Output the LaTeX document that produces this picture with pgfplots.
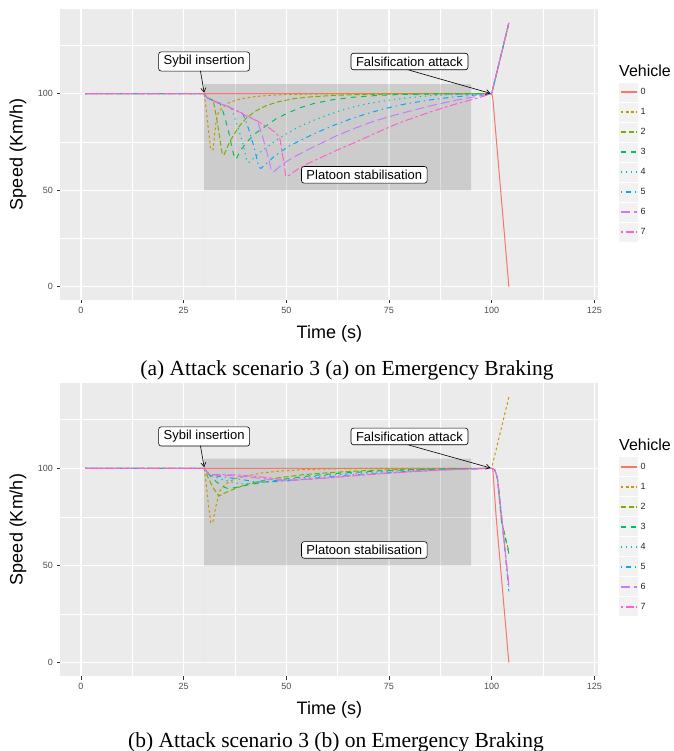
\documentclass[border=0pt]{standalone}
\usepackage{fontspec}
\setmainfont{Liberation Sans}
\newfontfamily\capfont{Liberation Serif}
\usepackage{pgfplots}
\pgfplotsset{compat=1.18}
\usetikzlibrary{arrows.meta}

\definecolor{ggbg}{HTML}{EBEBEB}
\definecolor{keybg}{HTML}{F2F2F2}
\definecolor{ticklab}{HTML}{4D4D4D}
\definecolor{tickcol}{HTML}{333333}
\definecolor{c0}{HTML}{F8766D}
\definecolor{c1}{HTML}{CD9600}
\definecolor{c2}{HTML}{7CAE00}
\definecolor{c3}{HTML}{00BE67}
\definecolor{c4}{HTML}{00BFC4}
\definecolor{c5}{HTML}{00A9FF}
\definecolor{c6}{HTML}{C77CFF}
\definecolor{c7}{HTML}{FF61CC}

\pgfplotsset{
  ggpanel/.style={
    scale only axis, width=538pt, clip=false,
    xmin=-5, xmax=126, ymin=-6.85, ymax=143.9,
    axis background/.style={fill=ggbg},
    axis line style={draw=none},
    xtick={0,25,...,125}, ytick={0,50,100},
    minor xtick={12.5,37.5,...,112.5}, minor ytick={25,75,125},
    xtick pos=bottom, ytick pos=left,
    grid=both,
    major grid style={white, line width=1.4pt},
    minor grid style={white, line width=0.7pt},
    tick align=outside, major tick length=3.5pt, minor tick length=0pt,
    tick style={tickcol, line width=0.8pt},
    /pgf/number format/assume math mode=true,
    ticklabel style={font=\fontsize{9}{10}\selectfont, text=ticklab},
    yticklabel style={xshift=-0.5pt},
    xlabel={Time (s)}, ylabel={Speed (Km/h)},
    every axis x label/.style={at={(axis description cs:0.5,-0.115)}, anchor=center,
      font=\fontsize{18}{20}\selectfont},
    every axis y label/.style={at={(axis description cs:-0.0788,0.5)}, rotate=90,
      anchor=center, font=\fontsize{18}{20}\selectfont},
    legend image code/.code={
      \path[fill=keybg, draw=none] (0pt,-9.5pt) rectangle (19pt,9.5pt);
      \draw[##1, line width=1.6pt] (1.5pt,0pt) -- (17.5pt,0pt);
    },
    legend cell align=left,
    legend style={anchor=north west, draw=none, fill=none, row sep=1pt,
      inner sep=0pt, font=\fontsize{9}{10}\selectfont,
      nodes={inner sep=2.5pt, text=black!85}},
    every axis plot/.append style={line width=1pt, line join=round},
  },
  v0/.style={c0, solid},
  v1/.style={c1, dash pattern=on 2.6pt off 2.6pt},
  v2/.style={c2, dash pattern=on 5.2pt off 2.6pt},
  v3/.style={c3, dash pattern=on 5.2pt off 5.2pt},
  v4/.style={c4, dash pattern=on 1.3pt off 3.9pt},
  v5/.style={c5, dash pattern=on 1.3pt off 3.9pt on 5.2pt off 3.9pt},
  v6/.style={c6, dash pattern=on 9.1pt off 3.9pt},
  v7/.style={c7, dash pattern=on 2.6pt off 2.6pt on 7.8pt off 2.6pt},
}
\tikzset{
  ann/.style={draw=black, rounded corners=2.5pt, fill=white, line width=0.6pt,
    font=\fontsize{13}{14}\selectfont, inner xsep=5pt, inner ysep=3.5pt},
  arr/.style={-{Straight Barb[length=4pt,width=5pt]}, line width=0.6pt, black},
}

\begin{document}
\begin{tikzpicture}
\path[use as bounding box] (0pt,0pt) rectangle (673pt,751pt);

% ---------------- (a) ----------------
\begin{axis}[ggpanel, height=291pt, at={(60.4pt,451pt)}, anchor=south west,
  legend style={at={(axis description cs:1.0383,0.7473)}}]
\addplot[forget plot, draw=none, fill=black, fill opacity=0.13]
  coordinates {(30,50) (95,50) (95,105) (30,105)} \closedcycle;
% vehicle 0
\addplot[v0] coordinates {(1,100) (100,100) (100.3,97.5) (104.2,0)};
% vehicle 1
\addplot[v1] coordinates {(1,100) (30,100) (30.5,92) (31,82) (31.6,71) (32.2,71)
  (32.6,80) (33,87) (33.6,91) (34.6,93) (36,95.3) (37.9,96.8) (40,97.8) (42,98.4)
  (45,99) (49,99.5) (55,99.8) (65,100) (100,100) (104.2,136.7)};
% vehicle 2
\addplot[v2] coordinates {(1,100) (30,100) (30.8,97.8) (31.5,97.2) (32.2,96.5)
  (33,88) (33.8,77) (34.4,69) (34.8,68.2) (35.4,71) (36.2,75) (37.1,78.3) (38.5,83)
  (40.3,87.5) (42.5,91) (45.2,93.9) (48,95.8) (51.7,97.4) (56,98.4) (61.4,99.1)
  (68,99.6) (80,99.9) (100,100) (104.2,136.7)};
% vehicle 3
\addplot[v3] coordinates {(1,100) (30,100) (30.8,97.8) (31.5,97.2) (32.3,96.4)
  (33,95.6) (34,94.6) (35,88) (36,80) (37,70) (37.5,66.1) (38,67) (39,71)
  (40.3,74.8) (42.5,79.5) (45.2,83.5) (47.5,87) (50,89.6) (53,92.5) (56.5,94.8)
  (61,96.8) (66.3,98.2) (72,99.1) (77.6,99.6) (88,99.9) (100,100) (104.2,136.7)};
% vehicle 4
\addplot[v4] coordinates {(1,100) (30,100) (30.8,97.8) (31.5,97.2) (32.3,96.4)
  (33,95.6) (33.8,95.2) (34.5,94.4) (35.3,93.8) (36,93.2) (36.7,92.3) (38,84)
  (39.5,74) (40.4,65) (40.9,64.4) (42,66.5) (43.5,69.5) (45.2,72.2) (47.5,75.8)
  (50,79.2) (53,82.8) (56.5,86.1) (60.5,89.3) (64.6,92.2) (69,94.5) (74.4,96.5)
  (80,98) (85.7,99.1) (92,99.7) (100,100) (104.2,136.7)};
% vehicle 5
\addplot[v5] coordinates {(1,100) (30,100) (30.8,97.8) (31.5,97.2) (32.3,96.4)
  (33,95.6) (33.8,95.2) (34.5,94.4) (35.3,93.8) (36,93.2) (36.8,92.2) (37.5,91.6)
  (38.3,90.8) (39,90.2) (39.5,89.3) (40.8,82) (42.2,72) (43.3,62) (43.8,61.3)
  (45,63.5) (46.5,66.5) (48.4,69.6) (50.8,73) (53.3,75.7) (57,79.5) (61.4,83.5)
  (65.5,86.8) (69.5,89.6) (74,92.3) (79.2,94.8) (85,96.8) (90.6,98.3) (95.5,99.2)
  (100,100) (104.2,136.7)};
% vehicle 6
\addplot[v6] coordinates {(1,100) (30,100) (30.8,97.8) (31.5,97.2) (32.3,96.4)
  (33,95.6) (33.8,95.2) (34.5,94.4) (35.3,93.8) (36,93.2) (36.8,92.2) (37.5,91.6)
  (38.3,90.8) (39,90.2) (39.8,89) (40.5,88.4) (41.3,87.6) (42,86.8) (43,85.8)
  (44.2,78) (45.5,68) (46.4,60) (46.9,59.5) (48.5,62.5) (50,64.8) (51.7,67)
  (55,70.8) (58.2,74) (62,78) (66.3,81.8) (71,85.5) (76,88.7) (81,91.5) (85.7,94)
  (91,96.5) (96.3,98.6) (100,100) (104.2,136.7)};
% vehicle 7
\addplot[v7] coordinates {(1,100) (30,100) (30.8,97.8) (31.5,97.2) (32.3,96.4)
  (33,95.6) (33.8,95.2) (34.5,94.4) (35.3,93.8) (36,93.2) (36.8,92.2) (37.5,91.6)
  (38.3,90.8) (39,90.2) (39.8,89) (40.5,88.4) (41.3,87.6) (42,86.8) (42.8,86)
  (43.5,85.2) (44.3,84) (45,83.2) (45.8,82.4) (46.5,81.2) (47.3,80) (48.4,77.4)
  (49.2,67) (49.9,57.1) (50.5,57.5) (52.5,60.5) (54.9,63.5) (59,67.5) (63,71.4)
  (67,75) (71.1,79) (77.6,85) (85.7,91) (91,94.5) (96.3,97.6) (100,100) (104.2,136.7)};
\legend{0,1,2,3,4,5,6,7}
\node[ann] at (axis cs:30,116.7) {Sybil insertion};
\draw[arr] (axis cs:29.1,111.8) -- (axis cs:30,100.6);
\node[ann] at (axis cs:80,116.7) {Falsification attack};
\draw[arr] (axis cs:79.8,112.3) -- (axis cs:99.7,100.2);
\node[ann] at (axis cs:69,58) {Platoon stabilisation};
\node[anchor=west, font=\fontsize{16}{18}\selectfont, inner sep=0pt]
  at (axis description cs:1.0383,0.787) {Vehicle};
\end{axis}

% ---------------- (b) ----------------
\begin{axis}[ggpanel, height=293pt, at={(60.4pt,75pt)}, anchor=south west,
  legend style={at={(axis description cs:1.0383,0.747)}}]
\addplot[forget plot, draw=none, fill=black, fill opacity=0.13]
  coordinates {(30,50) (95,50) (95,105) (30,105)} \closedcycle;
% vehicle 0
\addplot[v0] coordinates {(1,100) (100,100) (100.3,99.4) (101.1,75) (104.2,0)};
% vehicle 1
\addplot[v1] coordinates {(1,100) (30,100) (30.5,92) (31,82) (31.6,72) (32.1,72)
  (32.8,80) (33.8,88.3) (35,91.5) (36.3,93.4) (38,95) (40.3,96) (44,97.6)
  (48.4,98.6) (55,99.4) (65,99.9) (100,100) (104.2,136.7)};
% vehicle 2
\addplot[v2] coordinates {(1,100) (30,100) (31,95) (32.2,90) (33.6,85.7) (35,87.3)
  (37.1,89.2) (40.3,91.7) (44,93.6) (48.4,95.2) (54,96.7) (60.6,97.8) (70,98.9)
  (80,99.5) (100,100) (100.8,99.2) (101.4,95) (102.4,73) (104.2,57)};
% vehicle 3
\addplot[v3] coordinates {(1,100) (30,100) (31.3,96.5) (33,93) (35,90.2) (36,89.5)
  (38,90.3) (41,91.6) (45,93) (50,94.6) (56,96.2) (63,97.5) (72,98.6) (82,99.4)
  (100,100) (100.8,99.2) (101.4,95) (102.4,73) (104.2,56)};
% vehicle 4
\addplot[v4] coordinates {(1,100) (30,100) (31.3,96.5) (34,94.5) (37,92.8) (39,92)
  (42,92.3) (46,93.2) (51,94.5) (58,96) (66,97.4) (75,98.5) (86,99.4) (100,100)
  (100.8,99.2) (101.4,95) (101.8,88) (104.2,38)};
% vehicle 5
\addplot[v5] coordinates {(1,100) (30,100) (31.3,96.5) (35,95.5) (39,94.3) (42,93.2)
  (45,92.9) (50,93.5) (57,95) (65,96.5) (75,97.9) (86,99.1) (100,100)
  (100.8,99.2) (101.4,95) (101.8,88) (104.2,36.7)};
% vehicle 6
\addplot[v6] coordinates {(1,100) (30,100) (31.3,96.7) (36,96.3) (41,95.5) (45,94.5)
  (48,93.7) (52,93.8) (58,94.8) (66,96.3) (76,97.8) (88,99.2) (100,100)
  (100.8,99.2) (101.4,95) (101.8,88) (104.2,40)};
% vehicle 7
\addplot[v7] coordinates {(1,100) (30,100) (31.3,96.8) (38,96.6) (43,95.8) (47,94.8)
  (50,94) (54,94.2) (60,95) (68,96.4) (78,97.9) (89,99.2) (100,100)
  (100.8,99.2) (101.4,95) (101.8,88) (104.2,39)};
\legend{0,1,2,3,4,5,6,7}
\node[ann] at (axis cs:30,116.4) {Sybil insertion};
\draw[arr] (axis cs:29.1,111.6) -- (axis cs:30,100.6);
\node[ann] at (axis cs:80,116.4) {Falsification attack};
\draw[arr] (axis cs:79.8,112) -- (axis cs:99.7,100.2);
\node[ann] at (axis cs:69,58) {Platoon stabilisation};
\node[anchor=west, font=\fontsize{16}{18}\selectfont, inner sep=0pt]
  at (axis description cs:1.0383,0.788) {Vehicle};
\end{axis}

\node[font=\capfont\fontsize{21.5}{24}\selectfont, inner sep=0pt] at (347pt,381pt)
  {(a) Attack scenario 3 (a) on Emergency Braking};
\node[font=\capfont\fontsize{21.5}{24}\selectfont, inner sep=0pt] at (336pt,9pt)
  {(b) Attack scenario 3 (b) on Emergency Braking};
\end{tikzpicture}
\end{document}
